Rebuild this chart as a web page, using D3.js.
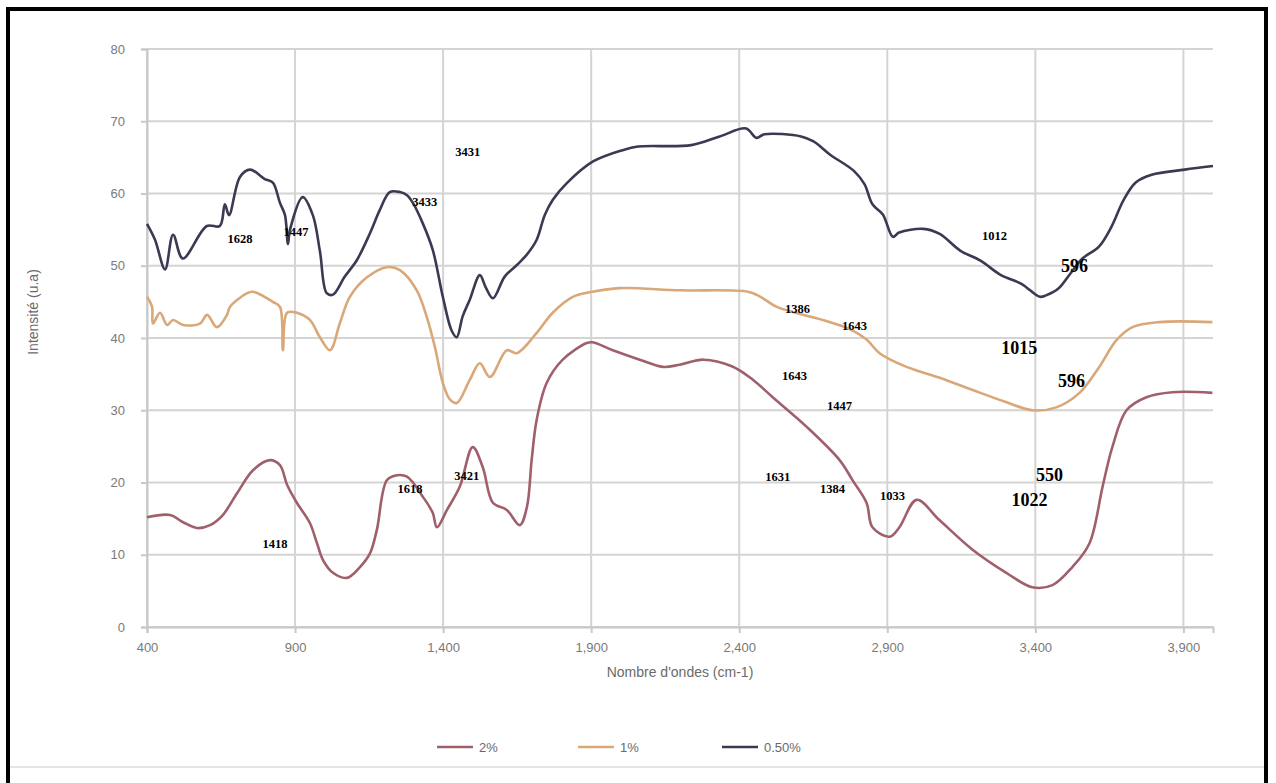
<!DOCTYPE html>
<html><head><meta charset="utf-8">
<script src="https://cdn.jsdelivr.net/npm/d3@7"></script>
<style>body{margin:0;background:#fff;}svg{display:block;}</style>
</head><body>
<svg id="c" width="1276" height="783"></svg>
<script>
// ---- data ----
const seriesNames = ["2%", "1%", "0.50%"];
const xTicks = [400, 900, 1400, 1900, 2400, 2900, 3400, 3900];
const yTicks = [0, 10, 20, 30, 40, 50, 60, 70, 80];

const wn2 = [400,478,522,569,613,656,704,758,815,849,873,906,950,974,994,1028,1075,1119,1153,1176,1210,1244,1278,1332,1365,1379,1413,1456,1500,1534,1568,1615,1659,1683,1699,1716,1750,1804,1885,1905,1973,2064,2142,2199,2279,2375,2444,2513,2628,2739,2783,2830,2850,2908,2941,2999,3076,3188,3302,3390,3458,3525,3583,3627,3660,3708,3775,3863,3998];
const val2 = [15.2,15.5,14.5,13.7,14.1,15.5,18.5,21.7,23.1,22.4,19.7,17.2,14.4,11.6,9.3,7.5,6.8,8.3,10.2,13.4,20.3,21,20.8,18,15.8,13.8,16.2,19.4,24.9,22.1,17.2,16.2,14.1,16.6,23.1,28.7,33.8,37,39.3,39.4,38.3,37,36,36.3,37,36.1,34.3,31.8,27.7,23.1,20.3,17.2,13.8,12.5,13.8,17.6,14.8,10.7,7.5,5.5,5.8,8.3,11.6,19.4,24.9,30,31.8,32.5,32.4];

const wn1 = [400,417,420,444,468,488,522,579,603,636,670,680,738,758,825,849,859,873,906,950,984,1018,1051,1085,1143,1210,1254,1311,1345,1372,1399,1423,1446,1490,1524,1558,1615,1649,1716,1770,1838,1905,1996,2199,2430,2472,2527,2682,2775,2830,2874,2965,3077,3188,3303,3390,3471,3549,3616,3674,3728,3819,3998];
const val1 = [45.7,44.3,42,43.5,41.8,42.5,41.8,42,43.2,41.5,43.2,44.3,46.2,46.4,45,44.3,38.3,43.5,43.5,42.5,40.1,38.3,42,45.7,48.4,49.8,49.4,46.6,42.9,38.8,33.8,31.5,31,34.2,36.5,34.6,38.3,37.9,40.7,43.5,45.7,46.4,46.9,46.6,46.4,45.7,44.3,42.5,41.2,39.8,37.9,36,34.5,32.8,31.1,30,30.4,32.4,36,39.7,41.5,42.2,42.2];

const wn05 = [400,427,461,488,521,602,646,663,677,714,748,798,825,849,866,876,883,926,960,984,1007,1028,1068,1109,1153,1186,1220,1254,1277,1298,1331,1365,1399,1429,1446,1466,1490,1524,1544,1568,1608,1649,1682,1716,1743,1770,1817,1905,2006,2058,2238,2334,2423,2458,2485,2609,2651,2706,2788,2823,2850,2885,2919,2940,3022,3077,3146,3215,3284,3353,3415,3436,3477,3518,3559,3614,3656,3697,3738,3793,3904,4000];
const val05 = [55.8,53.6,49.5,54.3,51,55.5,55.5,58.5,57,62.3,63.3,62,61.5,58.7,57,53,55,59.5,57,52,46.2,46,48.5,50.8,54.5,57.7,60.2,60.2,59.8,58.7,55.9,52.2,45.7,41,40.1,43,45.3,48.7,47,45.5,48.5,50.1,51.5,53.6,57,59.1,61.4,64.4,66,66.5,66.7,67.9,69,67.7,68.2,67.9,67.2,65.4,63.1,61.3,58.5,57.1,54,54.6,55.1,54.4,52.1,50.7,48.7,47.5,45.7,45.9,46.8,48.9,51,52.6,55.3,59,61.5,62.6,63.3,63.8];

// peak annotations
const labelText = ["1628","1447","3433","3431","1012","596","1386","1643","1015","596","1643","1447","1631","1384","1033","550","1022","1418","1618","3421"];
const labelX    = [714,903,1338,1483,3262,3532,2597,2789,3346,3522,2587,2739,2530,2715,2918,3448,3380,832,1288,1480];
const labelY    = [53.6,54.5,58.7,65.6,54,49.7,43.9,41.5,38.3,33.8,34.6,30.4,20.6,19,18,20.8,17.3,11.3,19,20.8];
const labelBig  = [0,0,0,0,0,1,0,0,1,1,0,0,0,0,0,1,1,0,0,0];

// ---- drawing ----
const svg = d3.select("#c");
const W = 1276, H = 783;
const m = {left:147, right:1213, top:49, bottom:627};
const x = d3.scaleLinear().domain([400, 4000]).range([m.left, m.right]);
const y = d3.scaleLinear().domain([0, 80]).range([m.bottom, m.top]);

svg.append("rect").attr("x",0).attr("y",0).attr("width",W).attr("height",H).attr("fill","#fff");
// outer frame
svg.append("rect").attr("x",8).attr("y",9).attr("width",1258).attr("height",800)
  .attr("fill","none").attr("stroke","#000").attr("stroke-width",4);
svg.append("line").attr("x1",10).attr("x2",1264).attr("y1",767).attr("y2",767)
  .attr("stroke","#e4e4e4").attr("stroke-width",2);

const grid = "#d4d4d4";
svg.append("g").selectAll("line").data(yTicks).join("line")
  .attr("x1", m.left).attr("x2", m.right)
  .attr("y1", d=>y(d)).attr("y2", d=>y(d))
  .attr("stroke", grid).attr("stroke-width", 2);
svg.append("g").selectAll("line").data(xTicks).join("line")
  .attr("x1", d=>x(d)).attr("x2", d=>x(d))
  .attr("y1", m.top).attr("y2", m.bottom)
  .attr("stroke", grid).attr("stroke-width", 2);

// axes
const xAxis = d3.axisBottom(x).tickValues(xTicks).tickFormat(d3.format(",")).tickSize(6).tickPadding(10);
const gx = svg.append("g").attr("transform", `translate(0,${m.bottom})`).call(xAxis);
gx.select(".domain").attr("stroke", "#c8c8c8").attr("stroke-width", 2);
gx.selectAll(".tick line").attr("stroke", "#c8c8c8").attr("stroke-width", 2);
gx.selectAll("text").attr("fill","#7a7a7a").style("font","13px 'Liberation Sans', Arial, sans-serif");

const yAxis = d3.axisLeft(y).tickValues(yTicks).tickSize(6).tickPadding(16);
const gy = svg.append("g").attr("transform", `translate(${m.left},0)`).call(yAxis);
gy.select(".domain").attr("stroke", "#c8c8c8").attr("stroke-width", 2);
gy.selectAll(".tick line").attr("stroke", "#c8c8c8").attr("stroke-width", 2);
gy.selectAll("text").attr("fill","#7a7a7a").style("font","13px 'Liberation Sans', Arial, sans-serif");

// axis titles
svg.append("text").attr("transform","translate(38,312) rotate(-90)")
  .attr("text-anchor","middle").attr("fill","#6a6a6a")
  .style("font","14px 'Liberation Sans', Arial, sans-serif").text("Intensité (u.a)");
svg.append("text").attr("x",680).attr("y",677).attr("text-anchor","middle").attr("fill","#6a6a6a")
  .style("font","14px 'Liberation Sans', Arial, sans-serif").text("Nombre d'ondes (cm-1)");

// series
const colors = ["#a0606b", "#d9a778", "#3a3a52"];
const series = [
  {name: seriesNames[0], xs: wn2, ys: val2, color: colors[0]},
  {name: seriesNames[1], xs: wn1, ys: val1, color: colors[1]},
  {name: seriesNames[2], xs: wn05, ys: val05, color: colors[2]}
];
const line = d3.line().x(d=>x(d[0])).y(d=>y(d[1])).curve(d3.curveCatmullRom.alpha(0.5));
series.forEach(s => {
  svg.append("path").datum(s.xs.map((v,i)=>[v, s.ys[i]]))
    .attr("d", line).attr("fill","none").attr("stroke", s.color)
    .attr("stroke-width", 2.6).attr("stroke-linejoin","round");
});

// annotations
svg.append("g").selectAll("text").data(labelText).join("text")
  .attr("x", (d,i)=>x(labelX[i])).attr("y", (d,i)=>y(labelY[i]))
  .attr("text-anchor","middle").attr("dominant-baseline","middle")
  .attr("fill","#000")
  .style("font-family","'Liberation Serif', 'DejaVu Serif', serif")
  .style("font-weight","bold")
  .style("font-size", (d,i)=> labelBig[i] ? "18px" : "12.5px")
  .text(d=>d);

// legend
const legX = [437, 578, 722];
const lg = svg.append("g");
series.forEach((s,i) => {
  lg.append("line").attr("x1", legX[i]).attr("x2", legX[i]+36).attr("y1", 747).attr("y2", 747)
    .attr("stroke", s.color).attr("stroke-width", 2.6);
  lg.append("text").attr("x", legX[i]+42).attr("y", 752).attr("fill","#6a6a6a")
    .style("font","13px 'Liberation Sans', Arial, sans-serif").text(s.name);
});
</script>
</body></html>
